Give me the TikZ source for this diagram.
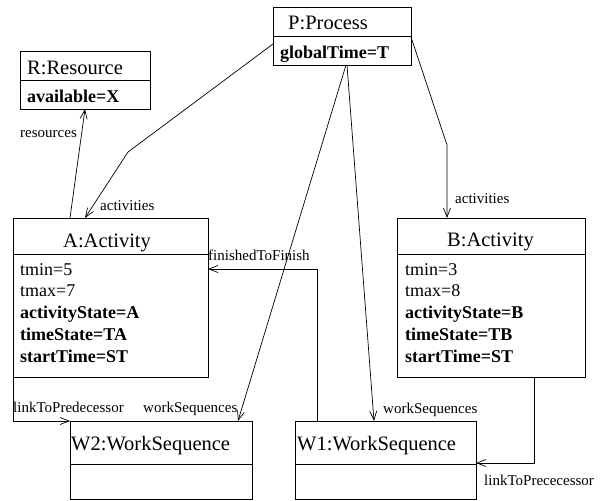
\documentclass[tikz,border=0pt]{standalone}
\usepackage{fontspec}
\setmainfont{Liberation Serif}
\usetikzlibrary{arrows.meta,calc}
\begin{document}
\begin{tikzpicture}[x=1pt,y=-1pt,
  box/.style={draw, line width=0.8pt, anchor=north west, inner sep=0pt, outer sep=0pt},
  title/.style={anchor=base west, inner sep=0pt, font=\fontsize{20.5}{24}\selectfont},
  attr/.style={anchor=base west, inner sep=0pt, font=\fontsize{18}{21.7}\selectfont},
  battr/.style={attr, font=\fontsize{18}{21.7}\selectfont\bfseries},
  lbl/.style={anchor=base west, inner sep=0pt, font=\fontsize{15}{18}\selectfont},
  conn/.style={line width=0.7pt, -{Straight Barb[length=9pt,width=7pt]}},
  div/.style={line width=0.8pt}]
\useasboundingbox (0,0) rectangle (603,501);

% boxes
\node[box, minimum width=138pt, minimum height=58pt] (P) at (273,7) {};
\node[box, minimum width=130pt, minimum height=58pt] (R) at (20,51) {};
\node[box, minimum width=195pt, minimum height=159pt] (A) at (13,218) {};
\node[box, minimum width=188pt, minimum height=159pt] (B) at (397,218) {};
\node[box, minimum width=182pt, minimum height=78pt] (W2) at (70,421) {};
\node[box, minimum width=181pt, minimum height=78pt] (W1) at (295,421) {};

% dividers
\draw[div] (273,36) -- (411,36);
\draw[div] (20,80) -- (150,80);
\draw[div] (13,254) -- (208,254);
\draw[div] (397,254) -- (585,254);
\draw[div] (70,464) -- (252,464);
\draw[div] (295,464) -- (476,464);

% titles and attributes
\node[title] (Pt) at (288,29) {P:Process};
\node[battr] (Pa) at (280,58) {globalTime=T};
\node[title] (Rt) at (27,74) {R:Resource};
\node[battr] (Ra) at (27,102) {available=X};

\node[title] (At) at (63,247) {A:Activity};
\node[attr] (A1) at (20,275) {tmin=5};
\node[attr] (A2) at (20,296.75) {tmax=7};
\node[battr] (A3) at (20,318.5) {activityState=A};
\node[battr] (A4) at (20,340.25) {timeState=TA};
\node[battr] (A5) at (20,362) {startTime=ST};

\node[title] (Bt) at (447,246) {B:Activity};
\node[attr] (B1) at (405,275) {tmin=3};
\node[attr] (B2) at (405,296.75) {tmax=8};
\node[battr] (B3) at (405,318.5) {activityState=B};
\node[battr] (B4) at (405,340.25) {timeState=TB};
\node[battr] (B5) at (405,362) {startTime=ST};

\node[title] (W2t) at (71,450) {W2:WorkSequence};
\node[title] (W1t) at (297,450) {W1:WorkSequence};

% connectors
\draw[conn] ($(A.north west)+(57,0)$) -- ($(R.south west)+(65,0)$);
\draw[conn] ($(P.north west)+(0,37)$) -- (128,152) -- ($(A.north west)+(72,0)$);
\draw[conn] ($(P.north east)+(0,30)$) -- (447,145) -- ($(B.north west)+(50,0)$);
\draw[conn] ($(P.south west)+(73,0)$) -- ($(W2.north west)+(168,0)$);
\draw[conn] ($(P.south west)+(74,0)$) -- ($(W1.north west)+(79,0)$);
\draw[conn] ($(W1.north west)+(22,0)$) |- ($(A.north east)+(0,51)$);
\draw[conn] (A.south west) |- (W2.north west);
\draw[conn] ($(B.south west)+(137,0)$) |- ($(W1.north east)+(0,42)$);

% labels
\node[lbl] (l1) at (20,137) {resources};
\node[lbl] (l2) at (100,210) {activities};
\node[lbl] (l3) at (455,203) {activities};
\node[lbl] (l4) at (208,260) {finishedToFinish};
\node[lbl] (l5) at (13,412) {linkToPredecessor};
\node[lbl] (l6) at (143,412) {workSequences};
\node[lbl] (l7) at (383,413) {workSequences};
\node[lbl] (l8) at (484,485) {linkToPrececessor};
\end{tikzpicture}
\end{document}
